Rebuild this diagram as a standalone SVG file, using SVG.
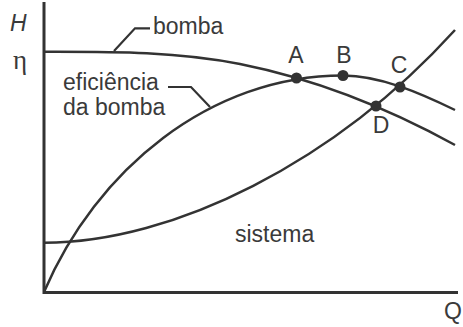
<svg xmlns="http://www.w3.org/2000/svg" width="463" height="327" viewBox="0 0 463 327">
<style>
.ln{fill:none;stroke:#333;stroke-width:2.5;stroke-linejoin:round}
.ax{fill:none;stroke:#333;stroke-width:3}
.ld{fill:none;stroke:#333;stroke-width:2.2}
.t{font-family:"Liberation Sans",Arial,sans-serif;font-size:23px;fill:#3a3a3a}
.dot{fill:#333}
</style>
<rect width="463" height="327" fill="#fff"/>
<g id="axes">
<path class="ax" d="M44,2 V292.5 H458"/>
<text class="t" x="10" y="31" style="font-style:italic">H</text>
<text x="13" y="69" style="font-family:'Liberation Serif','DejaVu Serif',serif;font-size:27px;fill:#3a3a3a">η</text>
<text class="t" x="444" y="319">Q</text>
</g>
<g id="connectors">
<path id="pump" class="ln" d="M44,51.7 C109,51.7 175,51 240,64 C312,78.4 383,105.4 455,145"/>
<path id="efficiency" class="ln" d="M44,292 C96,170 210,75.5 343,75.5 C380,75.5 420,93 455,110"/>
<path id="system" class="ln" d="M44,242.7 C174,242.7 335,162 455,30"/>
<path class="ld" d="M114,51 L135,28.3 H150"/>
<path class="ld" d="M168,87 H191 L210,107"/>
</g>
<g id="label-bomba"><text class="t" x="153" y="34">bomba</text></g>
<g id="label-eficiencia"><text class="t" x="63" y="90">eficiência</text><text class="t" x="63" y="115">da bomba</text></g>
<g id="label-sistema"><text class="t" x="235" y="242">sistema</text></g>
<g id="A"><circle class="dot" cx="296.5" cy="78" r="5.5"/><text class="t" x="296" y="63" text-anchor="middle">A</text></g>
<g id="B"><circle class="dot" cx="343" cy="75.5" r="5.5"/><text class="t" x="344" y="63" text-anchor="middle">B</text></g>
<g id="C"><circle class="dot" cx="400" cy="87" r="5.5"/><text class="t" x="399" y="73" text-anchor="middle">C</text></g>
<g id="D"><circle class="dot" cx="376" cy="106" r="5.5"/><text class="t" x="381" y="133" text-anchor="middle">D</text></g>
</svg>
